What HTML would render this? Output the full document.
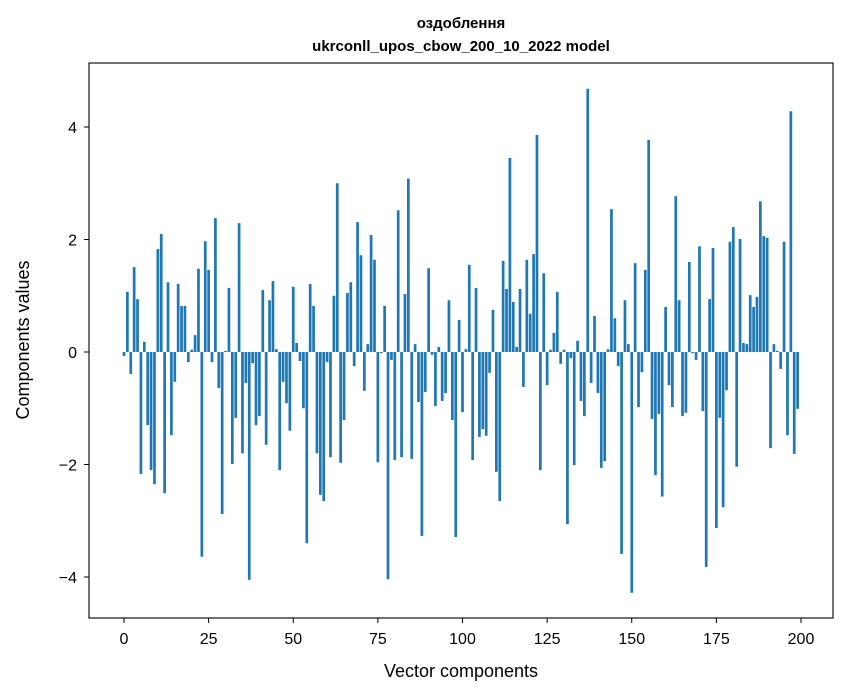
<!DOCTYPE html>
<html><head><meta charset="utf-8"><style>
body{margin:0;background:#fff;}
svg{display:block;font-family:"Liberation Sans","DejaVu Sans",sans-serif;}
</style></head><body>
<svg id="chart" width="847" height="696" viewBox="0 0 847 696">
<rect width="847" height="696" fill="#fff"/>
<text x="461" y="28" text-anchor="middle" font-size="15" font-weight="bold">оздоблення</text>
<text x="461" y="51" text-anchor="middle" font-size="15" font-weight="bold">ukrconll_upos_cbow_200_10_2022 model</text>
<g id="bars"></g>
<rect x="89" y="63" width="744" height="555" fill="none" stroke="#000" stroke-width="1.1"/>
<g id="xticks"></g>
<g id="yticks"></g>
<text x="461" y="677" text-anchor="middle" font-size="18">Vector components</text>
<text transform="translate(29,340) rotate(-90)" text-anchor="middle" font-size="18">Components values</text>
</svg>
<script>
const values = [-0.07,1.07,-0.39,1.51,0.94,-2.17,0.18,-1.30,-2.10,-2.35,
1.83,2.10,-2.51,1.24,-1.48,-0.53,1.21,0.82,0.82,-0.18,
0.04,0.30,1.48,-3.64,1.97,1.46,-0.18,2.38,-0.64,-2.88,
0.02,1.14,-1.99,-1.17,2.29,-1.80,-0.55,-4.05,-0.20,-1.30,
-1.14,1.10,-1.65,0.92,1.26,0.05,-2.10,-0.53,-0.91,-1.40,
1.16,0.16,-0.16,-1.00,-3.40,1.21,0.82,-1.80,-2.54,-2.65,
-0.18,-1.87,1.00,3.00,-1.97,-1.21,1.05,1.24,-0.25,2.31,
1.72,-0.69,0.14,2.08,1.64,-1.96,-0.02,0.82,-4.04,-0.14,
-1.92,2.52,-1.87,1.03,3.08,-1.90,0.14,-0.89,-3.27,-0.71,
1.49,-0.05,-0.96,0.09,-0.87,-0.73,0.92,-1.21,-3.29,0.57,
-1.07,0.05,1.55,-1.92,1.14,-1.51,-1.37,-1.49,-0.37,0.75,
-2.13,-2.65,1.62,1.12,3.45,0.89,0.09,1.12,-0.62,1.64,
0.68,1.74,3.86,-2.10,1.40,-0.59,0.04,0.34,1.07,-0.21,
0.04,-3.06,-0.11,-2.01,0.20,-0.87,-1.14,4.68,-0.55,0.64,
-0.73,-2.06,-1.94,0.05,2.54,0.60,-0.25,-3.59,0.92,0.14,
-4.28,1.58,-0.98,-0.36,1.46,3.77,-1.19,-2.19,-1.10,-2.57,
0.80,-0.59,-0.98,2.77,0.92,-1.14,-1.08,1.60,-0.02,-0.14,
1.88,-1.05,-3.82,0.94,1.85,-3.13,-1.17,-2.76,-0.68,1.96,
2.22,-2.04,2.01,0.16,0.14,1.01,0.80,0.98,2.68,2.06,
2.03,-1.71,0.14,0.02,-0.30,1.96,-1.48,4.28,-1.81,-1.01];
const xTicks = [0,25,50,75,100,125,150,175,200];
const yTicks = [-4,-2,0,2,4];
const yTickLabels = ["\u22124","\u22122","0","2","4"];

const NS="http://www.w3.org/2000/svg";
const X0=124, XS=3.385, Y0=352, YS=56.25;
const xs=v=>X0+v*XS, ys=v=>Y0-v*YS;
const bars=document.getElementById('bars');
values.forEach((v,i)=>{
  const r=document.createElementNS(NS,'rect');
  const y1=ys(Math.max(v,0)), y2=ys(Math.min(v,0));
  r.setAttribute('x',xs(i-0.4));
  r.setAttribute('width',0.8*XS);
  r.setAttribute('y',y1);
  r.setAttribute('height',Math.max(y2-y1,0.3));
  r.setAttribute('fill','#1f77b4');
  
  
  bars.appendChild(r);
});
const xg=document.getElementById('xticks');
xTicks.forEach(t=>{
  const l=document.createElementNS(NS,'line');
  l.setAttribute('x1',xs(t));l.setAttribute('x2',xs(t));
  l.setAttribute('y1',618);l.setAttribute('y2',623);
  l.setAttribute('stroke','#000');
  
  
  xg.appendChild(l);
  const tx=document.createElementNS(NS,'text');
  tx.setAttribute('x',xs(t));tx.setAttribute('y',644);
  tx.setAttribute('text-anchor','middle');tx.setAttribute('font-size','16');
  tx.textContent=t;
  
  
  xg.appendChild(tx);
});
const yg=document.getElementById('yticks');
yTicks.forEach((t,i)=>{
  const l=document.createElementNS(NS,'line');
  l.setAttribute('x1',84);l.setAttribute('x2',89);
  l.setAttribute('y1',ys(t));l.setAttribute('y2',ys(t));
  l.setAttribute('stroke','#000');
  
  
  yg.appendChild(l);
  const tx=document.createElementNS(NS,'text');
  tx.setAttribute('x',77);tx.setAttribute('y',ys(t)+6);
  tx.setAttribute('text-anchor','end');tx.setAttribute('font-size','16');
  tx.textContent=yTickLabels[i];
  
  
  yg.appendChild(tx);
});
</script>
</body></html>
